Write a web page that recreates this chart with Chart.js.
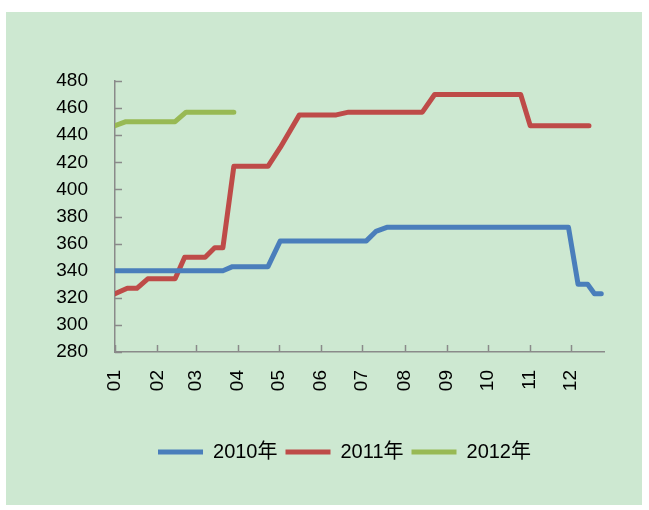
<!DOCTYPE html>
<html>
<head>
<meta charset="utf-8">
<script src="https://cdn.jsdelivr.net/npm/chart.js@4"></script>
<style>
  html, body { margin: 0; padding: 0; background: #fff; }
  #wrap { position: absolute; left: 6px; top: 12px; width: 636px; height: 493px; background: #cde8d1; }
</style>
</head>
<body>
<div id="wrap"><canvas id="chart" width="636" height="493"></canvas></div>
<script>
  // x positions are day of year, ticks sit on the first day of each month
  const monthLabels = ["01", "02", "03", "04", "05", "06", "07", "08", "09", "10", "11", "12"];
  const monthStartDays = [0, 31, 59, 90, 120, 151, 181, 212, 243, 273, 304, 334];

  const days2010 = [0, 79, 86, 112, 121, 184, 191, 199, 332, 339, 346, 351, 356];
  const values2010 = [340, 340, 343, 343, 362, 362, 369, 372, 372, 330, 330, 323, 323];

  const days2011 = [0, 9, 16, 24, 44, 51, 66, 73, 79, 87, 112, 121, 135, 162, 171, 225, 234, 297, 304, 347];
  const values2011 = [323, 327, 327, 334, 334, 350, 350, 357, 357, 417, 417, 431, 455, 455, 457, 457, 470, 470, 447, 447];

  const days2012 = [0, 8, 44, 52, 87];
  const values2012 = [447, 450, 450, 457, 457];

  const seriesNames = ["2010年", "2011年", "2012年"];
  const seriesColors = ["#4a7ebb", "#be4b48", "#98b954"];

  const FONT = "'Liberation Sans', 'Noto Sans CJK SC', sans-serif";

  function pts(days, values) {
    return days.map((d, i) => ({ x: d, y: values[i] }));
  }

  function line(i, data) {
    return {
      label: seriesNames[i],
      data: data,
      borderColor: seriesColors[i],
      backgroundColor: seriesColors[i],
      borderWidth: 5,
      borderCapStyle: "round",
      borderJoinStyle: "round",
      pointRadius: 0,
      pointHoverRadius: 0,
      pointStyle: "line",
      tension: 0,
    };
  }

  // short tick marks that point into the plot, like the original
  const innerTicks = {
    id: "innerTicks",
    beforeDatasetsDraw(chart) {
      const ctx = chart.ctx;
      const { x, y } = chart.scales;
      const area = chart.chartArea;
      ctx.save();
      ctx.strokeStyle = "#8a8a8a";
      ctx.lineWidth = 1.5;
      ctx.beginPath();
      y.ticks.forEach((t) => {
        const py = Math.round(y.getPixelForValue(t.value)) + 0.5;
        ctx.moveTo(area.left, py);
        ctx.lineTo(area.left + 7, py);
      });
      x.ticks.forEach((t) => {
        const px = Math.round(x.getPixelForValue(t.value)) + 0.5;
        ctx.moveTo(px, area.bottom);
        ctx.lineTo(px, area.bottom - 7);
      });
      ctx.stroke();
      ctx.restore();
    },
  };

  // the original legend sits right of centre; narrow its box from the left
  const legendShift = {
    id: "legendShift",
    afterLayout(chart) {
      chart.legend.left = 79;
    },
  };

  new Chart(document.getElementById("chart"), {
    type: "line",
    data: {
      datasets: [
        line(0, pts(days2010, values2010)),
        line(1, pts(days2011, values2011)),
        line(2, pts(days2012, values2012)),
      ],
    },
    options: {
      responsive: false,
      animation: false,
      devicePixelRatio: 1,
      layout: { padding: { left: 0, top: 69, right: 38, bottom: 33 } },
      plugins: {
        tooltip: { enabled: false },
        legend: {
          position: "bottom",
          labels: {
            usePointStyle: true,
            pointStyleWidth: 45,
            padding: 8,
            color: "#000",
            font: { family: FONT, size: 20 },
          },
        },
      },
      scales: {
        x: {
          type: "linear",
          min: 0,
          max: 358,
          afterFit(s) { s.height = 82; },
          afterBuildTicks(s) { s.ticks = monthStartDays.map((v) => ({ value: v })); },
          grid: { display: true, drawOnChartArea: false, drawTicks: false },
          border: { display: true, color: "#8a8a8a", width: 1.5 },
          ticks: {
            autoSkip: false,
            minRotation: 90,
            maxRotation: 90,
            padding: 18,
            color: "#000",
            font: { family: FONT, size: 19 },
            callback: (v) => monthLabels[monthStartDays.indexOf(v)],
          },
        },
        y: {
          min: 280,
          max: 480,
          afterFit(s) { s.width = 109; },
          grid: { display: true, drawOnChartArea: false, drawTicks: false },
          border: { display: true, color: "#8a8a8a", width: 1.5 },
          ticks: {
            stepSize: 20,
            padding: 27,
            color: "#000",
            font: { family: FONT, size: 19 },
          },
        },
      },
    },
    plugins: [innerTicks, legendShift],
  });
</script>
</body>
</html>
